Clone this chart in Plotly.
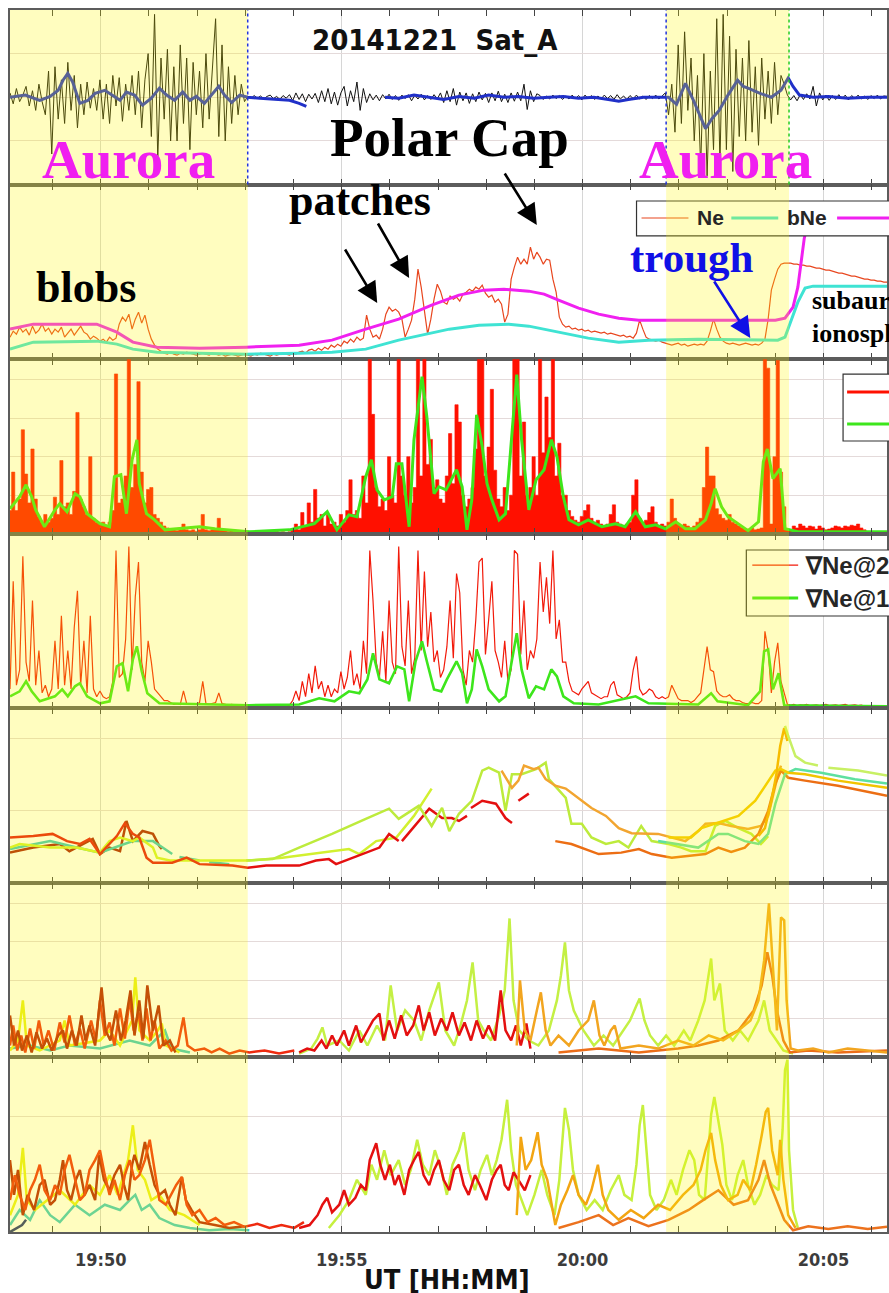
import numpy as np
import pandas as pd
import plotly.graph_objects as go
from plotly.subplots import make_subplots

# ---------------------------------------------------------------- time base
DAY = "2014-12-21"
T0 = pd.Timestamp(f"{DAY} 19:50:00")
T_START, T_END = -113, 979          # seconds relative to 19:50 UT
STEP = 4                            # cadence of the evenly sampled records [s]
TICK_LABELS = ["19:50", "19:55", "20:00", "20:05"]
AURORA_SEC = [(-113, 183), (704, 857)]          # auroral oval crossings
BOUNDARY_SEC = [(183, "#2233dd"), (704, "#2233dd"), (857, "#22cc22")]


def ut(sec):
    return [T0 + pd.Timedelta(seconds=s) for s in sec]


def sampled(values):
    return ut([T_START + STEP * i for i in range(len(values))])


# ---------------------------------------------------------------- panel 1: dB
DB_RAW = [0.1, -0.15, 0.2, -0.1, 0.05, 0.25, -0.2, 0.15, -0.3, 0.3, -0.1,
          -0.4, 0.6, -1.3, 0.7, -0.5,
          0.4, -0.6, 0.8, -0.3, 0.5, -0.7,
          0.3, -0.4, 0.35, -0.25, 0.2, -0.3,
          0.4, -0.5, 0.3, -0.6, 0.5, -0.2, 0.45, -0.55, 0.3,
          -0.3, 0.5, -0.4, 0.6, -0.7, 0.4,
          1.0, -0.9, 1.9, -1.4, 0.9,
          -0.5, 1.1, -1.0, 0.7, -1.0, 1.2, -0.6, 0.9, -1.2, 0.8, -0.4,
          0.6, -0.7, 1.0, -0.5, 0.8,
          1.8, -0.9, 1.2, -1.0, 0.7, -0.6,
          0.5, -0.4, 0.3, -0.1,
          0.02, -0.03, 0.04, -0.02, 0.03, -0.04, 0.02, 0.05, -0.03, 0.02, -0.05, 0.04, -0.02,
          0.06, -0.08, 0.1, -0.05, 0.08, -0.1, 0.07, -0.04, 0.09,
          -0.12, 0.15, -0.1, 0.2, -0.15, 0.12, -0.18, 0.1, 0.25, -0.2, 0.15, -0.1, 0.35, -0.3, 0.2, -0.12,
          0.08, -0.06, 0.05, -0.08, 0.06, -0.04, 0.07, -0.05, 0.04, -0.07, 0.05, -0.03, 0.06, -0.08,
          0.05, -0.04, 0.07, -0.06, 0.04, -0.05, 0.06, -0.04,
          0.1, -0.12, 0.15, -0.1, 0.2, -0.18, 0.12, -0.08, 0.1, -0.14, 0.08, -0.1, 0.12, -0.06, 0.09,
          -0.12, 0.1, -0.08, 0.14, -0.1, 0.07, -0.12, 0.1, -0.09, 0.12, -0.08, 0.3, -0.28, 0.15, -0.1, 0.08,
          0.04, -0.05, 0.03, -0.04, 0.05, -0.03, 0.04, -0.05, 0.03, -0.04, 0.05, -0.03, 0.04, -0.06,
          0.05, -0.03, 0.04, -0.05, 0.03, -0.04, 0.05, -0.03, 0.04, -0.05, 0.06, -0.04, 0.03, -0.05,
          0.04, -0.03, 0.05, -0.04, 0.03, -0.05, 0.04, -0.03, 0.05, -0.04, 0.03,
          0.1, -0.4, 0.3, -0.8,
          1.2, -0.6, 1.5, -0.3, 0.9, -1.0,
          0.5, -1.6, 1.0, -1.8, 0.6, -1.2,
          1.8, -1.5, 1.9, -1.2, 1.4, -1.7, 1.1, -0.9,
          0.9, -1.0, 1.3, -0.8, 0.7, -1.1, 0.9, -0.5,
          0.6, -0.6, 0.8, -0.4, 0.5, 0.3,
          0.05, -0.06, 0.04, -0.08, 0.06, -0.05, 0.08, -0.04, 0.25, -0.2, 0.1, -0.06, 0.05, -0.07,
          0.04, -0.05, 0.06, -0.04, 0.05, -0.06, 0.04, -0.03, 0.05, -0.04, 0.03, -0.05, 0.04, -0.03,
          0.05, -0.04, 0.03, 0.02]

DB_SMOOTH_SEC = [-113, -94, -76, -63, -53, -47, -41, -35, -26, -16, -7, 5, 14, 24, 32, 42, 52, 63, 73,
                 82, 92, 102, 111, 119, 129, 138, 147, 154, 163, 173, 183, 198, 216, 235, 247, 256,
                 260, 354, 371, 390, 409, 427, 446, 465, 483, 502, 520, 539, 558, 576, 595, 614, 632,
                 645, 657, 676, 694, 707, 717, 728, 738, 753, 761, 770, 781, 793, 800, 806, 821, 835,
                 847, 856, 862, 870, 887, 906, 930, 955, 979]
DB_SMOOTH = [0, 0.05, -0.07, 0.02, 0.16, 0.39, 0.55, 0.35, -0.14, -0.07, 0.09, 0.16, 0.05, -0.07,
             0.12, 0.05, -0.18, -0.02, 0.21, 0.05, -0.07, 0.12, -0.07, 0.02, -0.14, 0.05, 0.25,
             0.05, -0.12, 0.05, 0, -0.02, -0.05, -0.07, -0.14, -0.21, None, 0, -0.02, 0.05, 0,
             -0.05, 0.02, -0.02, 0.05, 0, 0.02, -0.02, 0, 0.02, -0.02, 0, -0.05, -0.09, -0.05, 0,
             0, 0, -0.16, 0.32, -0.07, -0.72, -0.49, -0.3, 0.05, 0.39, 0.25, 0.21, 0.09, 0, 0.16,
             0.44, 0.25, 0.05, 0, 0.02, -0.02, 0, 0]

# ---------------------------------------------------------------- panel 2: Ne, bNe
NE = [0.22, 0.28, 0.25, 0.32, 0.27, 0.3, 0.24, 0.33, 0.26, 0.29, 0.35, 0.28, 0.31, 0.25, 0.3,
      0.27, 0.32, 0.22, 0.26, 0.3, 0.24, 0.28, 0.33, 0.27, 0.25, 0.2, 0.23, 0.21,
      0.18, 0.2, 0.17, 0.22, 0.19, 0.21,
      0.35, 0.42, 0.38, 0.45, 0.3, 0.4, 0.47, 0.36, 0.44, 0.3,
      0.2, 0.14, 0.1, 0.08,
      0.06, 0.05, 0.07, 0.05, 0.04, 0.06, 0.05, 0.07, 0.06, 0.05, 0.04, 0.05, 0.06, 0.05, 0.04,
      0.06, 0.05, 0.04, 0.05, 0.03, 0.04, 0.05, 0.04, 0.03, 0.04, 0.05, 0.04, 0.03, 0.05, 0.04,
      0.06, 0.05, 0.04, 0.03, 0.05, 0.04, 0.05, 0.06, 0.05, 0.04, 0.06, 0.05,
      0.07, 0.08, 0.06, 0.09, 0.1, 0.08, 0.11, 0.09, 0.12, 0.1, 0.14, 0.12,
      0.15, 0.13, 0.18, 0.16, 0.2, 0.17, 0.22, 0.19, 0.21,
      0.44, 0.3, 0.22, 0.24, 0.2, 0.3, 0.45, 0.52, 0.48, 0.5, 0.47, 0.4, 0.22, 0.3, 0.39, 0.6,
      0.9, 0.72, 0.5, 0.25, 0.4, 0.6, 0.75, 0.68, 0.57, 0.55, 0.63, 0.6, 0.62, 0.58, 0.65, 0.67,
      0.7, 0.68, 0.72, 0.7, 0.74, 0.66, 0.62, 0.64, 0.57, 0.6, 0.55, 0.37, 0.45, 0.8,
      0.92, 1.02, 0.95, 1.0, 0.95, 1.12, 1.0, 1.07, 1.02, 0.95, 1.0, 0.99, 0.8, 0.67,
      0.42, 0.35, 0.32, 0.33, 0.3, 0.31, 0.29, 0.3, 0.28, 0.29, 0.27, 0.28,
      0.27, 0.26, 0.27, 0.25, 0.26, 0.25, 0.24, 0.23, 0.24, 0.22, 0.23, 0.21, 0.26, 0.39, 0.3,
      0.22, 0.2, 0.19, 0.18, 0.19, 0.17,
      0.16, 0.15, 0.14, 0.15, 0.16, 0.14, 0.15, 0.13, 0.14, 0.15, 0.14, 0.15, 0.14, 0.18, 0.28,
      0.4, 0.3, 0.22, 0.18, 0.16, 0.15, 0.16, 0.15, 0.14, 0.15, 0.16, 0.15, 0.14, 0.15, 0.14,
      0.16, 0.2,
      0.4, 0.69, 0.8, 0.9, 0.95, 0.96,
      0.96, 0.96, 0.95, 0.95, 0.94, 0.94, 0.93, 0.93, 0.92, 0.91, 0.91, 0.9, 0.89, 0.89, 0.88,
      0.87, 0.86, 0.86, 0.85, 0.84, 0.83, 0.83, 0.82, 0.81, 0.8, 0.8, 0.79, 0.79, 0.78, 0.78,
      0.77, 0.77]

BNE_SEC = [-113, -84, -5, 20, 40, 70, 123, 181, 247, 288, 330, 371, 434, 471, 508, 533, 570, 607,
           645, 682, 744, 843, 852, 860, 868, 877, 887, 979]
BNE = [0.10, 0.17, 0.18, 0.15, 0.10, 0.07, 0.06, 0.05, 0.06, 0.07, 0.10, 0.19, 0.30, 0.34, 0.35,
       0.33, 0.27, 0.21, 0.17, 0.19, 0.20, 0.19, 0.22, 0.39, 0.57, 0.71, 0.73, 0.73]

BACKGROUND_SEC = [-113, -84, -5, 20, 40, 70, 123, 181, 247, 288, 330, 371, 412, 446, 477, 502, 533,
                  552, 570, 595, 620, 645, 670, 744, 840, 852, 862, 868, 872, 876, 881, 906, 979]
BACKGROUND = [0.30, 0.35, 0.35, 0.27, 0.17, 0.12, 0.11, 0.12, 0.14, 0.19, 0.30, 0.40, 0.54, 0.64,
              0.69, 0.70, 0.68, 0.65, 0.59, 0.51, 0.45, 0.41, 0.39, 0.39, 0.39, 0.41, 0.52, 0.72,
              0.97, 1.21, 1.37, 1.42, 1.45]

# ---------------------------------------------------------------- panel 3: fluctuation level
FLUCT = [0.6, 1.6, 0.6, 0.9, 2.7, 1.55, 0.8, 2.2, 0.9, 0.45,
         0.3, 0.5, 0.3, 0.4, 0.95, 0.5, 1.9, 0.7, 0.8, 0.5,
         1.1, 3.15, 0.9, 0.7, 0.5, 2.0, 0.4, 0.3, 0.25, 0.3,
         0.2, 0.3, 0.6, 4.15, 0.8, 0.9, 1.5, 5.0, 1.2, 1.8,
         3.95, 1.6, 0.8, 1.15, 1.2, 0.5, 0.4, 0.3, 0.2, 0.15,
         0.1, 0.12, 0.08, 0.1, 0.25, 0.1, 0.08, 0.1, 0.06, 0.1,
         0.5, 0.1, 0.08, 0.1, 0.12, 0.4, 0.1, 0.08, 0.06, 0.1,
         0.05, 0.05, 0.04, 0.06, 0.05, 0.03, 0.05, 0.04, 0.06, 0.05,
         0.04, 0.03, 0.05, 0.06, 0.04, 0.05, 0.03, 0.05, 0.1, 0.25,
         0.1, 0.55, 0.2, 0.8, 0.3, 1.15, 0.4, 0.5, 0.2, 0.5,
         0.25, 0.3, 0.2, 0.5, 0.3, 0.6, 1.4, 0.5, 0.6, 0.4,
         1.5, 0.8, 5.0, 3.1, 1.2, 0.7, 0.9, 0.6, 2.0, 1.0,
         0.8, 5.0, 1.5, 1.0, 2.0, 0.8, 1.2, 5.0, 1.5, 5.0,
         1.8, 2.45, 1.2, 1.4, 0.9, 0.8, 1.5, 2.6, 1.3, 3.35,
         2.9, 1.0, 0.7, 0.9, 1.2, 2.2, 5.0, 5.0, 1.5, 2.25,
         3.75, 1.65, 0.9, 0.7, 1.2, 0.6, 1.0, 5.0, 5.0, 1.5,
         2.9, 1.0, 1.2, 2.0, 1.0, 5.0, 2.1, 3.55, 2.5, 5.0,
         1.5, 2.35, 1.0, 1.0, 0.6, 0.45, 0.35, 0.3, 0.45, 0.6,
         0.75, 0.4, 0.3, 0.35, 0.25, 0.2, 0.25, 0.5, 0.75, 0.3,
         0.25, 0.2, 0.25, 0.3, 1.0, 1.4, 0.4, 0.3, 0.35, 0.55,
         0.7, 0.3, 0.2, 0.25, 0.2, 0.3, 0.9, 0.4, 0.25, 0.2,
         0.25, 0.2, 0.15, 0.2, 0.3, 0.4, 1.2, 2.25, 1.5, 1.5,
         0.65, 0.5, 0.4, 0.35, 0.5, 0.3, 0.25, 0.2, 0.15, 0.1,
         0.12, 0.15, 0.1, 0.12, 0.15, 5.0, 4.3, 0.25, 2.0, 4.5,
         1.6, 0.7, 0.1, 0.1, 0.2, 0.15, 0.25, 0.2, 0.15, 0.2,
         0.18, 0.12, 0.2, 0.15, 0.1, 0.12, 0.15, 0.2, 0.18, 0.15,
         0.2, 0.18, 0.22, 0.2, 0.25, 0.15, 0.1, 0.05, 0.04, 0.05,
         0.04, 0.05, 0.04, 0.05]

FLUCT_AVG_SEC = [-113, -101, -93, -86, -81, -70, -57, -51, -42, -32, -26, -17, -1, 11, 17, 25, 32,
                 39, 45, 48, 57, 67, 80, 123, 142, 185, 235, 266, 282, 294, 309, 319, 330, 337,
                 344, 353, 363, 368, 375, 384, 390, 400, 406, 415, 421, 430, 443, 450, 456, 462,
                 468, 475, 481, 487, 496, 504, 512, 518, 524, 533, 542, 552, 561, 568, 576, 583,
                 595, 607, 624, 641, 653, 666, 678, 691, 703, 716, 728, 740, 753, 760, 765, 773,
                 781, 806, 819, 825, 830, 837, 846, 852, 868, 911, 979]
FLUCT_AVG = [0.65, 0.96, 1.27, 0.96, 0.62, 0.18, 0.62, 0.78, 0.57, 1.04, 0.96, 0.52, 0.26, 0.18,
             1.48, 1.53, 0.52, 1.92, 2.44, 1.3, 0.52, 0.36, 0.1, 0.18, 0.13, 0.05, 0.1, 0.26,
             0.57, 0.1, 0.49, 0.44, 1.48, 1.92, 1.14, 0.88, 0.96, 1.82, 1.82, 0.18, 2.44, 4.08,
             3.04, 1.04, 1.22, 1.14, 1.66, 1.22, 0.1, 0.88, 3.09, 2.26, 1.3, 0.88, 0.36, 0.52,
             2.6, 4.13, 2.44, 0.62, 1.4, 1.66, 2.44, 2.0, 0.96, 0.36, 0.23, 0.36, 0.18, 0.26,
             0.18, 0.57, 0.18, 0.23, 0.13, 0.31, 0.13, 0.13, 0.36, 0.78, 1.17, 0.7, 0.44, 0.08,
             0.31, 1.87, 2.2, 1.43, 1.69, 0.13, 0.05, 0.05, 0.05]

# ---------------------------------------------------------------- panel 4: density gradient
GRAD_HI = [0.5, 3.3, 0.6, 1.0, 3.95, 1.2, 0.7, 2.8, 0.6, 1.5,
           0.4, 0.6, 0.3, 0.5, 1.75, 0.5, 2.4, 0.6, 1.5, 0.5,
           2.1, 3.05, 0.6, 1.75, 0.4, 2.4, 0.5, 0.3, 0.45, 0.3,
           0.25, 0.3, 0.7, 4.1, 0.8, 0.9, 1.8, 4.2, 1.0, 2.9,
           3.8, 1.2, 0.7, 1.75, 1.2, 0.5, 0.4, 0.3, 0.2, 0.2,
           0.15, 0.1, 0.12, 0.1, 0.45, 0.12, 0.1, 0.12, 0.1, 0.15,
           0.7, 0.12, 0.1, 0.12, 0.15, 0.4, 0.12, 0.1, 0.08, 0.1,
           0.08, 0.06, 0.05, 0.07, 0.05, 0.06, 0.05, 0.07, 0.06, 0.05,
           0.06, 0.05, 0.07, 0.06, 0.05, 0.07, 0.06, 0.08, 0.2, 0.45,
           0.2, 0.7, 0.3, 0.9, 0.4, 1.1, 0.5, 0.7, 0.3, 0.6,
           0.3, 0.5, 0.4, 0.95, 0.5, 0.8, 1.5, 0.6, 0.9, 0.5,
           1.75, 0.9, 4.1, 2.8, 1.2, 0.8, 2.0, 0.7, 2.8, 1.2,
           0.9, 4.2, 1.6, 1.1, 2.8, 0.9, 1.3, 4.1, 1.5, 3.55,
           1.6, 2.5, 1.2, 1.5, 0.8, 1.0, 1.6, 2.8, 1.3, 3.5,
           3.0, 1.0, 0.6, 1.5, 1.2, 2.3, 3.8, 3.9, 1.4, 2.3,
           3.3, 1.5, 1.2, 0.8, 1.75, 0.7, 1.0, 4.1, 4.0, 1.4,
           2.8, 1.0, 1.5, 1.3, 1.8, 3.8, 2.5, 3.4, 2.2, 4.1,
           1.8, 2.3, 1.2, 1.2, 0.7, 0.45, 0.4, 0.35, 0.5, 0.6,
           0.7, 0.4, 0.35, 0.3, 0.25, 0.3, 0.3, 0.6, 0.7, 0.35,
           0.3, 0.25, 0.3, 0.4, 1.0, 1.35, 0.5, 0.35, 0.4, 0.5,
           0.45, 0.3, 0.25, 0.3, 0.25, 0.3, 0.6, 0.4, 0.25, 0.2,
           0.2, 0.2, 0.15, 0.2, 0.3, 0.4, 1.0, 1.6, 1.0, 0.95,
           0.45, 0.35, 0.3, 0.3, 0.35, 0.25, 0.2, 0.2, 0.15, 0.12,
           0.12, 0.15, 0.12, 0.12, 0.2, 2.0, 1.5, 0.4, 1.2, 1.7,
           0.7, 0.4, 0.1, 0.08, 0.1, 0.07, 0.09, 0.08, 0.1, 0.07,
           0.08, 0.09, 0.07, 0.08, 0.1, 0.07, 0.08, 0.09, 0.07, 0.08,
           0.1, 0.07, 0.08, 0.09, 0.07, 0.08, 0.06, 0.07, 0.05, 0.06,
           0.05, 0.06, 0.05, 0.06]

GRAD_LO_SEC = [-113, -101, -93, -86, -76, -57, -48, -41, -32, -26, -17, -1, 11, 20, 27, 34, 40,
               45, 51, 58, 73, 123, 185, 247, 272, 291, 309, 322, 332, 339, 347, 359, 369, 378,
               384, 392, 400, 406, 415, 424, 431, 443, 450, 456, 462, 468, 475, 483, 496, 504,
               512, 518, 524, 533, 542, 552, 561, 568, 576, 589, 620, 666, 682, 744, 760, 768,
               806, 821, 826, 831, 837, 844, 851, 979]
GRAD_LO = [0.31, 0.44, 0.7, 0.44, 0.18, 0.31, 0.49, 0.31, 0.57, 0.65, 0.31, 0.13, 0.18, 1.09,
           1.17, 0.44, 1.27, 1.61, 0.96, 0.39, 0.13, 0.1, 0.08, 0.1, 0.26, 0.18, 0.44, 0.39,
           0.75, 1.43, 0.75, 0.65, 1.09, 1.01, 0.18, 1.22, 1.74, 1.22, 0.49, 0.44, 0.75, 1.22,
           0.91, 0.13, 0.49, 1.53, 1.09, 0.49, 0.18, 0.31, 1.22, 1.95, 1.01, 0.26, 0.57, 0.49,
           1.01, 0.83, 0.31, 0.13, 0.1, 0.31, 0.13, 0.1, 0.39, 0.18, 0.08, 0.44, 1.48, 1.53,
           0.49, 0.91, 0.08, 0.05]

# ---------------------------------------------------------------- panels 5-7: multi-station records
P5 = {
    "#a81a08": ([-113, -84, -51, -39, -10, -1, 11, 24, 32, 40, 52, 65, 73, 76],
                [0.42, 0.49, 0.54, 0.44, 0.61, 0.4, 0.49, 0.44, 0.86, 0.58, 0.72, 0.68, 0.51, 0.47]),
    "#3cc8b8": ([-113, -63, -30, -1, 40, 65, 77, 89, 95, 98, 123, 130, 135, 160],
                [0.47, 0.58, 0.49, 0.42, 0.58, 0.58, 0.49, 0.4, None, 0.36, 0.31, None, 0.29, 0.26]),
    "#d2f030": ([-113, -101, -63, -30, -1, 11, 24, 40, 48, 65, 70, 86, 123, 185, 226, 272, 309, 322,
                 343, 368, 390, 412],
                [0.49, 0.54, 0.49, 0.49, 0.42, 0.58, 0.63, 0.58, 0.63, 0.49, 0.35, 0.31, 0.31, 0.31,
                 0.35, 0.42, 0.47, 0.4, 0.58, 0.63, 0.93, 1.31]),
    "#e41010": ([-113, -84, -60, -42, -26, -14, -1, 7, 20, 30, 40, 48, 57, 65, 89, 107, 123, 164,
                 183, 206, 247, 268, 284, 293, 309, 330, 347, 359, 371, 373, 375, 388, 409, 425,
                 437, 446, 456, 458, 461, 475, 492, 504, 512, 514, 520, 533],
                [0.63, 0.65, 0.68, 0.58, 0.54, 0.61, 0.4, 0.49, 0.65, 0.83, 0.68, 0.63, 0.35, 0.28,
                 0.28, 0.35, 0.26, 0.24, 0.21, 0.24, 0.24, 0.31, 0.33, 0.26, 0.33, 0.42, 0.49, 0.68,
                 0.58, None, 0.58, 0.75, 1.03, 0.9, 0.9, 0.86, 0.93, None, 1.04, 1.14, 1.1, 0.9,
                 0.83, None, 1.14, 1.24]),
    "#bdeb3c": ([181, 214, 247, 288, 330, 359, 371, 396, 412, 425, 434, 446, 462, 475, 483, 496,
                 504, 512, 524, 542, 554, 558, 579, 586, 599, 611, 629, 645, 657, 673, 686, 707,
                 723, 735, 753, 765, 778, 794, 810, 822, 831],
                [0.31, 0.33, 0.49, 0.68, 0.89, 1.03, 0.89, 1.07, 0.79, 1.04, 0.72, 0.96, 1.14, 1.56,
                 1.6, 1.53, 1.0, 1.51, 1.51, 1.58, 1.67, 1.44, 1.18, 0.82, 0.82, 0.63, 0.54, 0.58,
                 0.49, 0.79, 0.58, 0.54, 0.49, 0.44, 0.44, 0.79, 0.86, 0.76, 0.68, 0.54, 0.65]),
    "#f2a530": ([499, 512, 520, 527, 539, 545, 554, 566, 579, 595, 611, 629, 645, 661, 678, 694,
                 711, 728, 744, 753, 769, 785, 806, 822, 831, 837, 843, 847],
                [1.56, 1.32, 1.42, 1.63, 1.58, 1.6, 1.44, 1.35, 1.31, 1.18, 1.04, 0.93, 0.76, 0.69,
                 0.69, 0.68, 0.63, 0.58, 0.72, 0.82, 0.83, 0.79, 0.75, 0.79, 0.93, 1.21, 1.49, 1.63]),
    "#ec6e14": ([566, 586, 620, 648, 670, 686, 711, 735, 753, 769, 785, 802, 819, 831, 840, 847,
                 856, 877, 918, 979],
                [0.58, 0.54, 0.4, 0.42, 0.47, 0.4, 0.35, 0.38, 0.4, 0.49, 0.43, 0.49, 0.68, 1.0,
                 1.38, 1.56, 1.46, 1.42, 1.35, 1.21]),
    "#5ee0a0": ([694, 719, 744, 769, 781, 802, 819, 831, 840, 852, 865, 897, 939, 979],
                [0.58, 0.54, 0.49, 0.68, 0.68, 0.58, 0.54, 0.68, 1.1, 1.51, 1.58, 1.53, 1.44, 1.38]),
    "#f2c400": ([707, 735, 748, 765, 794, 815, 831, 840, 847, 856, 877, 918, 979],
                [0.63, 0.63, 0.76, 0.82, 0.93, 1.14, 1.42, 1.56, 1.58, 1.53, 1.51, 1.42, 1.32]),
    "#f5a800": ([819, 827, 835, 841, 846, 851, 855],
                [0.65, 0.76, 1.14, 1.49, 1.9, 2.15, 1.97]),
    "#c8f064": ([852, 856, 865, 877, 893, 897, 906, 943, 979],
                [2.18, 2.04, 1.76, 1.67, 1.63, None, 1.6, 1.56, 1.49]),
}

P6 = {
    "#3cc8c0": ([-113, -88, -63, -39, -1, 36, 61, 80, 88, 111],
                [0.23, 0.31, 0.18, 0.31, 0.23, 0.44, 0.31, 0.7, 0.23, 0.13]),
    "#e6ec1e": ([-113, -103, -97, -92, -76, -51, -45, -39, -1, 11, 24, 39, 43, 48, 61, 71, 76, 81, 98],
                [0.18, 0.44, 1.48, 0.31, 0.18, 0.44, 0.96, 0.31, 0.44, 0.7, 0.31, 0.96, 2.08, 0.7,
                 0.44, 0.7, 0.88, 0.31, 0.13]),
    "#ee2a10": ([-113, -109, -104, -99, -94, -88, -83, -77, -71, -65, -58, -51, -45, -39, -32, -26,
                 -20, -12, -6, -1, 5, 11, 17, 24, 30, 36, 41, 47, 52, 57, 62, 67, 73, 81, 88, 96,
                 103, 108, 117, 129, 138, 148, 160, 173, 185, 204, 222, 241],
                [0.31, 0.83, 0.18, 0.57, 0.13, 0.75, 0.23, 0.96, 0.31, 0.7, 0.18, 0.91, 0.39, 1.09,
                 0.31, 0.75, 0.23, 0.96, 0.44, 1.48, 0.57, 0.91, 0.31, 1.27, 0.49, 1.53, 0.7, 1.17,
                 0.44, 1.27, 0.44, 0.96, 0.23, 0.44, 0.18, 0.31, 1.04, 0.31, 0.18, 0.23, 0.13, 0.23,
                 0.1, 0.18, 0.13, 0.18, 0.1, 0.18]),
    "#b01808": ([-113, -108, -103, -98, -92, -86, -80, -73, -67, -61, -53, -47, -42, -36, -30, -24,
                 -19, -14, -7, 1, 6, 12, 19, 25, 31, 37, 42, 48, 53, 58, 65, 72, 78, 86, 93],
                [1.09, 0.31, 0.7, 0.18, 0.57, 0.13, 0.65, 0.23, 0.49, 0.18, 0.57, 0.7, 0.23, 0.7,
                 0.31, 1.09, 0.44, 0.83, 0.31, 1.82, 0.7, 0.44, 1.22, 0.44, 0.96, 1.74, 0.57, 1.48,
                 0.49, 1.87, 0.7, 1.35, 0.31, 0.44, 0.13]),
    "#c4f044": ([247, 262, 270, 276, 282, 297, 309, 322, 332, 344, 354, 361, 369, 379, 390, 399,
                 409, 421, 429, 440, 448, 456, 463, 470, 477, 486, 496, 503, 509, 514, 521, 533,
                 545, 558, 568, 573, 578, 583, 589, 601, 614, 626, 638, 651, 659, 667, 671, 677,
                 684, 694, 704, 714, 726, 734, 744, 752, 757, 760, 764, 771, 777, 787, 796, 806,
                 819, 826, 833, 841, 850, 862],
                [0.1, 0.23, 0.49, 0.78, 0.31, 0.44, 0.18, 0.7, 0.31, 0.83, 0.44, 1.87, 0.7, 1.22,
                 0.96, 0.44, 1.22, 1.95, 0.7, 0.31, 0.83, 1.48, 2.47, 0.96, 0.7, 0.44, 1.09, 1.74,
                 3.61, 1.48, 0.7, 0.44, 0.31, 0.7, 1.48, 2.13, 2.99, 1.74, 1.22, 0.7, 0.31, 0.57,
                 0.31, 0.7, 0.96, 1.35, 1.53, 0.96, 0.57, 0.31, 0.57, 0.31, 0.7, 0.44, 0.96, 1.48,
                 2.13, 2.57, 1.48, 1.92, 0.7, 0.44, 0.7, 0.44, 0.96, 1.48, 0.7, 0.44, 0.18, 0.1]),
    "#e41010": ([247, 257, 266, 275, 281, 288, 294, 303, 309, 318, 324, 332, 339, 347, 352, 359,
                 366, 374, 381, 389, 396, 402, 409, 416, 424, 431, 438, 446, 453, 461, 468, 476,
                 483, 491, 498, 504, 511, 517, 523, 530, 535],
                [0.13, 0.23, 0.18, 0.44, 0.23, 0.57, 0.31, 0.7, 0.31, 0.83, 0.39, 0.7, 0.96, 1.14,
                 0.44, 0.96, 0.49, 1.09, 0.57, 0.83, 1.35, 0.7, 1.17, 0.57, 1.01, 0.7, 1.17, 0.57,
                 0.91, 0.44, 0.96, 0.49, 0.83, 0.44, 1.74, 0.7, 0.44, 0.83, 0.31, 0.88, 0.23]),
    "#ec6e1a": ([570, 595, 620, 645, 670, 694, 719, 744, 769, 794, 813, 823, 830, 836, 842, 850,
                 858, 881, 918, 979],
                [0.13, 0.18, 0.23, 0.18, 0.13, 0.18, 0.23, 0.31, 0.44, 0.7, 1.22, 1.87, 2.73, 2.13,
                 1.22, 0.44, 0.13, 0.18, 0.13, 0.18]),
    "#f2a520": ([518, 522, 528, 535, 543, 548, 554, 560, 570, 583, 595, 607, 614, 621, 627, 635,
                 640, 647, 670, 694, 719, 738, 757, 775, 794, 809, 819, 826, 832, 837, 842, 845,
                 847, 851, 854, 859, 868, 887, 906, 930, 955, 979],
                [0.31, 2.0, 0.7, 0.44, 1.22, 1.69, 0.7, 0.31, 0.57, 0.31, 0.7, 0.96, 1.48, 0.57,
                 0.31, 0.7, 0.83, 0.23, 0.31, 0.23, 0.44, 0.31, 0.57, 0.44, 0.7, 0.96, 1.48, 2.52,
                 4.0, 2.26, 0.7, 2.52, 3.64, 3.56, 1.48, 0.23, 0.18, 0.23, 0.13, 0.23, 0.18, 0.13]),
}

P7 = {
    "#1e2c78": ([-113, -104, -98, -93], [0, 0.07, 0.12, 0.21]),
    "#3cc8c4": ([-113, -101, -88, -76, -63, -51, -32, -14, 5, 24, 36, 43, 51, 61, 73, 92, 111, 135,
                 160, 185],
                [0.12, 0.38, 0.21, 0.55, 0.29, 0.17, 0.47, 0.29, 0.47, 0.38, 0.55, 0.64, 0.38, 0.47,
                 0.24, 0.12, 0.07, 0.03, 0.05, 0.03]),
    "#e6ec20": ([-113, -103, -97, -92, -82, -66, -51, -32, -14, -1, 11, 21, 34, 40, 46, 55, 63, 73,
                 86, 104, 123],
                [0.29, 0.64, 1.45, 0.55, 0.38, 0.55, 0.72, 0.47, 0.81, 0.64, 0.98, 0.64, 1.24, 1.84,
                 1.07, 0.9, 0.55, 0.64, 0.38, 0.29, 0.12]),
    "#b01808": ([-113, -108, -103, -97, -91, -83, -76, -70, -63, -57, -51, -47, -42, -37, -31, -26,
                 -20, -14, -7, -2, 4, 11, 17, 24, 29, 34, 39, 42, 48, 55, 61, 67, 73, 80, 86, 93,
                 101, 106, 113, 123, 142, 160, 179],
                [1.24, 0.64, 1.07, 0.29, 0.64, 0.38, 0.81, 0.9, 0.47, 0.55, 0.9, 1.24, 0.72, 0.55,
                 0.9, 1.07, 0.64, 0.81, 0.55, 1.33, 0.9, 0.72, 0.98, 1.16, 0.81, 0.55, 1.16, 1.33,
                 1.07, 1.55, 1.16, 0.81, 0.64, 0.72, 0.47, 0.29, 0.95, 0.55, 0.38, 0.17, 0.12, 0.07,
                 0.1]),
    "#ee2a10": ([-113, -107, -101, -94, -88, -82, -76, -70, -63, -57, -51, -45, -39, -32, -26, -20,
                 -14, -7, -1, 5, 11, 17, 24, 30, 36, 42, 48, 55, 61, 67, 73, 81, 88, 94, 101, 107,
                 114, 123, 133, 143, 154, 166, 179, 195, 210, 225, 241, 253],
                [0.55, 0.98, 0.64, 0.38, 0.72, 0.9, 1.16, 0.72, 0.55, 0.81, 0.64, 1.07, 1.33, 0.9,
                 0.55, 0.64, 1.07, 1.24, 1.41, 0.98, 0.64, 0.9, 0.55, 0.98, 1.24, 0.9, 0.98, 1.24,
                 1.59, 1.07, 0.55, 0.47, 0.64, 0.81, 0.95, 0.47, 0.29, 0.38, 0.17, 0.24, 0.12, 0.17,
                 0.09, 0.14, 0.07, 0.12, 0.07, 0.17]),
    "#c6f03e": ([284, 297, 309, 319, 330, 337, 344, 353, 361, 371, 379, 386, 394, 401, 409, 416,
                 424, 431, 438, 446, 452, 458, 466, 473, 481, 487, 493, 499, 506, 511, 517, 524,
                 531, 540, 549, 556, 565, 571, 575, 578, 583, 588, 595, 605, 615, 625, 635, 645,
                 652, 661, 667, 671, 675, 680, 684, 692, 701, 710, 717, 725, 733, 739, 745, 752,
                 757, 760, 764, 769, 774, 779, 786, 793, 800, 806, 814, 821, 829, 836, 844, 849,
                 852, 855, 857, 862, 868],
                [0.07, 0.29, 0.55, 0.9, 0.64, 1.16, 0.9, 1.41, 0.98, 1.24, 0.81, 1.07, 1.59, 1.16,
                 0.98, 1.41, 1.07, 0.64, 1.16, 1.41, 1.72, 1.07, 0.72, 1.07, 1.33, 0.98, 1.24, 1.59,
                 2.28, 1.41, 0.81, 0.55, 0.29, 0.64, 1.07, 0.64, 0.29, 0.9, 1.59, 2.14, 1.76, 1.07,
                 0.64, 0.38, 0.55, 0.38, 0.72, 0.98, 0.64, 0.55, 1.16, 1.84, 2.19, 1.24, 0.64, 0.38,
                 0.55, 0.9, 0.64, 1.07, 1.41, 1.24, 0.64, 0.55, 1.41, 2.02, 2.33, 1.93, 1.5, 0.81,
                 0.55, 0.98, 1.24, 0.81, 0.47, 0.64, 0.98, 0.81, 0.72, 1.76, 2.79, 2.97, 1.41, 0.38,
                 0.07]),
    "#e41010": ([247, 260, 270, 276, 282, 288, 297, 303, 309, 317, 324, 330, 335, 343, 348, 354,
                 360, 366, 371, 378, 384, 390, 396, 402, 409, 415, 421, 427, 434, 440, 446, 452,
                 458, 466, 472, 480, 487, 493, 498, 503, 508, 514, 520, 528, 535],
                [0.07, 0.12, 0.29, 0.47, 0.59, 0.34, 0.47, 0.72, 0.47, 0.59, 0.81, 0.72, 1.24, 1.53,
                 1.16, 0.9, 1.16, 0.81, 0.98, 0.64, 1.07, 1.24, 1.38, 0.98, 0.81, 1.07, 1.24, 0.9,
                 0.72, 1.07, 1.16, 0.81, 0.64, 0.98, 0.81, 0.55, 0.9, 1.07, 1.16, 0.81, 0.72, 1.03,
                 0.9, 0.72, 0.98]),
    "#ec721e": ([570, 595, 620, 638, 657, 682, 707, 732, 750, 769, 788, 806, 819, 826, 834, 841,
                 851, 862, 881, 906, 930, 955, 979],
                [0.07, 0.17, 0.29, 0.12, 0.24, 0.1, 0.21, 0.38, 0.55, 0.72, 0.47, 0.55, 0.9, 1.24,
                 0.81, 0.55, 0.21, 0.03, 0.1, 0.05, 0.1, 0.05, 0.09]),
    "#f2a512": ([518, 523, 529, 536, 544, 549, 556, 566, 573, 581, 588, 595, 604, 611, 619, 625,
                 632, 645, 660, 676, 694, 709, 725, 738, 747, 753, 760, 765, 772, 781, 793, 800,
                 809, 816, 823, 828, 831, 836, 843, 846, 850, 856, 865],
                [0.29, 1.64, 1.07, 1.24, 1.72, 1.16, 0.9, 0.12, 0.47, 0.72, 0.98, 0.64, 0.47, 0.72,
                 1.16, 0.64, 0.38, 0.21, 0.38, 0.24, 0.47, 0.38, 0.64, 0.81, 1.07, 1.41, 1.71, 1.24,
                 0.81, 0.55, 0.64, 0.9, 0.72, 1.16, 1.67, 2.07, 2.14, 1.41, 0.98, 1.59, 0.9, 0.29,
                 0.07]),
}

# ---------------------------------------------------------------- figure
fig = make_subplots(rows=7, cols=1, shared_xaxes=True, vertical_spacing=0)


def line(row, times, values, color, width):
    fig.add_trace(go.Scatter(x=times, y=values, mode="lines",
                             line=dict(color=color, width=width),
                             connectgaps=False, hoverinfo="skip"), row=row, col=1)


# panel 1
line(1, sampled(DB_RAW), DB_RAW, "#111111", 1)
line(1, ut(DB_SMOOTH_SEC), DB_SMOOTH, "#2030c8", 3)
# panel 2
line(2, sampled(NE), NE, "#e8461e", 1.2)
line(2, ut(BNE_SEC), BNE, "#3fe3d3", 3)
line(2, ut(BACKGROUND_SEC), BACKGROUND, "#f020f0", 3)
# panel 3
fig.add_trace(go.Scatter(x=sampled(FLUCT), y=FLUCT, mode="lines", fill="tozeroy",
                         fillcolor="#ff1000", line=dict(color="#ff1000", width=0.6, shape="hvh"),
                         hoverinfo="skip"), row=3, col=1)
line(3, ut(FLUCT_AVG_SEC), FLUCT_AVG, "#3de61c", 3)
# panel 4
line(4, sampled(GRAD_HI), GRAD_HI, "#f21a0a", 1.2)
line(4, ut(GRAD_LO_SEC), GRAD_LO, "#3de61c", 2.6)
# panels 5-7
for row, group in ((5, P5), (6, P6), (7, P7)):
    for color, (sec, vals) in group.items():
        line(row, ut(sec), vals, color, 2.5)

# ---------------------------------------------------------------- axes
x_range = ut([T_START, T_END])
major = [pd.Timestamp(f"{DAY} {lab}") for lab in TICK_LABELS]
minutes = list(pd.date_range(f"{DAY} 19:49", f"{DAY} 20:06", freq="1min"))
Y_RANGES = {1: [-2, 2], 2: [0, 1.746], 3: [0, 4.534], 4: [0, 4.534],
            5: [0, 2.425], 6: [0, 4.534], 7: [0, 3.01]}
GRID_ROWS = {1, 3, 5, 6, 7}

for r in range(1, 8):
    fig.update_xaxes(row=r, col=1, range=x_range, showline=True, linecolor="#5c5c5c",
                     linewidth=1.6, mirror="allticks", ticks="inside", ticklen=6,
                     tickcolor="#444444", tickwidth=1.2, tickmode="array", tickvals=major,
                     ticktext=TICK_LABELS, showgrid=True, gridcolor="#d6d6d6", gridwidth=1,
                     zeroline=False, showticklabels=(r == 7),
                     tickfont=dict(family="DejaVu Sans Condensed, DejaVu Sans", size=18,
                                   color="#3c3c3c", weight="bold"),
                     ticklabelstandoff=11,
                     minor=dict(tickmode="array", tickvals=minutes, ticks="inside", ticklen=6,
                                tickcolor="#444444", tickwidth=1.2, showgrid=False))
    fig.update_yaxes(row=r, col=1, range=Y_RANGES[r], showline=True, linecolor="#5c5c5c",
                     linewidth=1.6, mirror=True, ticks="", showticklabels=False,
                     showgrid=(r in GRID_ROWS), gridcolor="#e4dada", gridwidth=1, tick0=0,
                     dtick=1, zeroline=False)

# ---------------------------------------------------------------- shapes
shapes = []
# legend frames (opaque, above the data)
for x0, y0, y1 in ((0.7144, 0.8151, 0.8437), (0.9499, 0.6473, 0.7021), (0.8396, 0.5041, 0.5581)):
    shapes.append(dict(type="rect", xref="paper", yref="paper", x0=x0, x1=1.05, y0=y0, y1=y1,
                       fillcolor="white", line=dict(color="#333333", width=1.2), layer="above"))
for x0, x1, y, color, width in ((0.7201, 0.7736, 0.8298, "#e8461e", 1.2),
                                (0.8225, 0.8760, 0.8298, "#3fe3d3", 3),
                                (0.9431, 1.05, 0.8298, "#f020f0", 3),
                                (0.9545, 1.05, 0.6874, "#ff1000", 3),
                                (0.9545, 1.05, 0.6612, "#3de61c", 3),
                                (0.8464, 0.8987, 0.5458, "#f21a0a", 1.2),
                                (0.8464, 0.8987, 0.5188, "#3de61c", 3)):
    shapes.append(dict(type="line", xref="paper", yref="paper", x0=x0, x1=x1, y0=y, y1=y,
                       line=dict(color=color, width=width), layer="above"))
# auroral intervals
for a, b in AURORA_SEC:
    shapes.append(dict(type="rect", xref="x", yref="paper", x0=ut([a])[0], x1=ut([b])[0],
                       y0=0, y1=1, fillcolor="rgba(255,248,0,0.25)", line=dict(width=0),
                       layer="above"))
# boundary markers in the top panel
for s, color in BOUNDARY_SEC:
    t = ut([s])[0]
    shapes.append(dict(type="line", xref="x", yref="y domain", x0=t, x1=t, y0=0, y1=1,
                       line=dict(color=color, width=1.5, dash="dot"), layer="above"))

# ---------------------------------------------------------------- text
SERIF = "Liberation Serif, Times New Roman, serif"
SANS = "Liberation Sans, Arial, sans-serif"
COND = "DejaVu Sans Condensed, DejaVu Sans, sans-serif"


def text(x, y, s, size, color="#000000", family=SERIF, xanchor="center"):
    return dict(xref="paper", yref="paper", x=x, y=y, text=f"<b>{s}</b>", showarrow=False,
                xanchor=xanchor, yanchor="middle", font=dict(family=family, size=size, color=color))


def arrow(x, y, ax, ay, color="#000000"):
    return dict(xref="paper", yref="paper", x=x, y=y, ax=ax, ay=ay, text="", showarrow=True,
                arrowhead=2, arrowsize=1.6, arrowwidth=2.6, arrowcolor=color, standoff=0)


annotations = [
    text(0.4846, 0.9755, "20141221  Sat_A", 29, "#111111", COND),
    text(0.5006, 0.8953, "Polar Cap", 55),
    text(0.1354, 0.8773, "Aurora", 55, "#f01ef0"),
    text(0.8157, 0.8773, "Aurora", 55, "#f01ef0"),
    text(0.3993, 0.8445, "patches", 44),
    text(0.0865, 0.7733, "blobs", 44),
    text(0.7782, 0.7971, "trough", 43, "#1010e6"),
    text(0.9124, 0.7619, "subauroral", 26, xanchor="left"),
    text(0.9124, 0.7356, "ionosphere", 26, xanchor="left"),
    text(0.7816, 0.8298, "Ne", 21, "#262626", SANS, "left"),
    text(0.8840, 0.8298, "bNe", 21, "#262626", SANS, "left"),
    text(0.9044, 0.5458, "∇Ne@2Hz", 24, "#262626", SANS, "left"),
    text(0.9044, 0.5188, "∇Ne@16Hz", 24, "#262626", SANS, "left"),
    text(0.498, -0.0385, "UT [HH:MM]", 27, "#111111", COND),
    arrow(0.4187, 0.7602, -33, -55),
    arrow(0.4551, 0.7807, -32, -56),
    arrow(0.6007, 0.8241, -33, -53),
    arrow(0.8441, 0.7316, -37, -58, "#1010e6"),
]

fig.update_layout(width=889, height=1293, margin=dict(l=10, r=0, t=10, b=61),
                  paper_bgcolor="white", plot_bgcolor="white", showlegend=False,
                  shapes=shapes, annotations=annotations)

fig.write_html("out.html")
